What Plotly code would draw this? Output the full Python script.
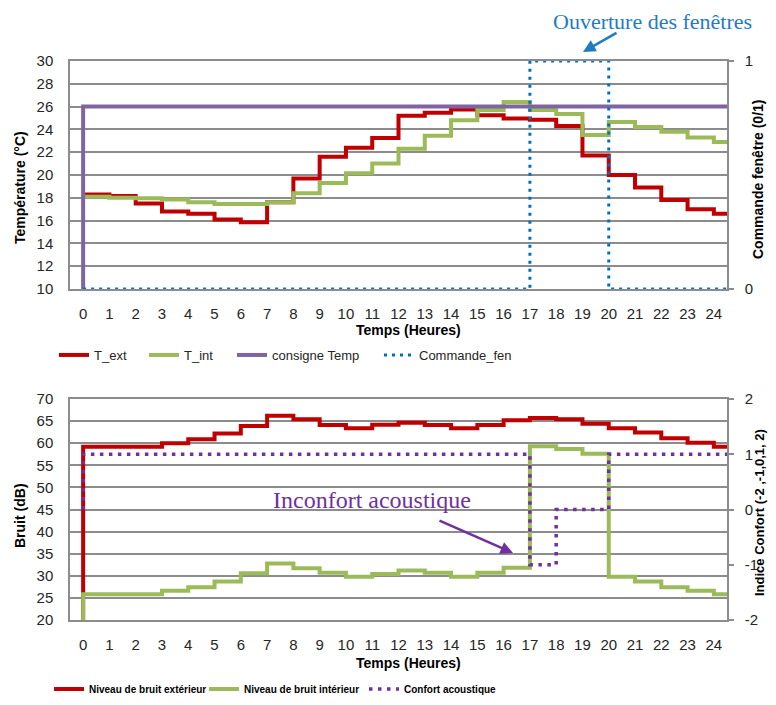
import plotly.graph_objects as go

# ---------------- data ----------------
hours = list(range(25))
hour_end = 24.5  # right end of the time axis (last step runs to it)
hour_ticks = list(range(25))

t_ext = [18.3, 18.15, 17.5, 16.8, 16.6, 16.1, 15.85, 17.6, 19.7, 21.6, 22.4, 23.25,
         25.2, 25.45, 25.75, 25.25, 24.95, 24.85, 24.3, 21.7, 20.0, 18.9, 17.8, 17.0, 16.6]
t_int = [18.1, 18.0, 17.95, 17.85, 17.6, 17.45, 17.45, 17.6, 18.4, 19.3, 20.15, 21.0,
         22.3, 23.45, 24.8, 25.7, 26.4, 25.7, 25.35, 23.5, 24.65, 24.2, 23.8, 23.3, 22.9]
consigne_start = 10
consigne = [26] * 25
commande = [0, 0, 0, 0, 0, 0, 0, 0, 0, 0, 0, 0, 0, 0, 0, 0, 0, 1, 1, 1, 0, 0, 0, 0, 0]

bruit_start = 20
bruit_ext = [59.2, 59.2, 59.2, 60.0, 60.9, 62.2, 63.9, 66.2, 65.4, 64.1, 63.4, 64.2,
             64.6, 64.1, 63.4, 64.1, 65.2, 65.7, 65.4, 64.4, 63.4, 62.4, 61.1, 60.1, 59.2]
bruit_int = [25.8, 25.8, 25.8, 26.6, 27.4, 28.7, 30.6, 32.8, 31.7, 30.7, 29.8, 30.4,
             31.2, 30.7, 29.8, 30.7, 31.8, 59.3, 58.7, 57.6, 29.8, 28.7, 27.4, 26.6, 25.8]
confort_start = 0
confort = [1, 1, 1, 1, 1, 1, 1, 1, 1, 1, 1, 1, 1, 1, 1, 1, 1, -1, 0, 0, 1, 1, 1, 1, 1]

# ---------------- helpers ----------------
OFF = 8  # page body margin
W, H = 776 - 2 * OFF, 705 - 2 * OFF
def px(x):
    return (x - OFF) / W
def py(y):
    return 1 - (y - OFF) / H

def step_xy(vals, start=None):
    xs = list(hours) + [hour_end]
    ys = list(vals) + [vals[-1]]
    if start is not None:
        xs = [hours[0]] + xs
        ys = [start] + ys
    return xs, ys

RED = "#C00000"
GREEN = "#9BBB59"
PURPLE = "#8064A2"
BLUE = "#0070C0"
DPURPLE = "#7030A0"
GRID = "#8C8C8C"
TXT = "#262626"
SANS = "Liberation Sans, Arial, sans-serif"
SERIF = "Liberation Serif, DejaVu Serif, serif"

fig = go.Figure()

x, y = step_xy(t_ext)
fig.add_trace(go.Scatter(x=x, y=y, mode="lines", line=dict(color=RED, width=4, shape="hv"),
                         name="T_ext", xaxis="x", yaxis="y", legend="legend"))
x, y = step_xy(t_int)
fig.add_trace(go.Scatter(x=x, y=y, mode="lines", line=dict(color=GREEN, width=4, shape="hv"),
                         name="T_int", xaxis="x", yaxis="y", legend="legend2"))
x, y = step_xy(consigne, consigne_start)
fig.add_trace(go.Scatter(x=x, y=y, mode="lines", line=dict(color=PURPLE, width=4, shape="hv"),
                         name="consigne Temp", xaxis="x", yaxis="y", legend="legend3"))
x, y = step_xy(commande)
fig.add_trace(go.Scatter(x=x, y=y, mode="lines",
                         line=dict(color=BLUE, width=3, shape="hv", dash="3px,5px"),
                         name="Commande_fen", xaxis="x", yaxis="y2", legend="legend4"))

x, y = step_xy(bruit_ext, bruit_start)
fig.add_trace(go.Scatter(x=x, y=y, mode="lines", line=dict(color=RED, width=4, shape="hv"),
                         name="Niveau de bruit extérieur", xaxis="x2", yaxis="y3", legend="legend5"))
x, y = step_xy(bruit_int, bruit_start)
fig.add_trace(go.Scatter(x=x, y=y, mode="lines", line=dict(color=GREEN, width=4, shape="hv"),
                         name="Niveau de bruit intérieur", xaxis="x2", yaxis="y3", legend="legend6"))
x, y = step_xy(confort, confort_start)
fig.add_trace(go.Scatter(x=x, y=y, mode="lines",
                         line=dict(color=DPURPLE, width=3.5, shape="hv", dash="3.5px,5.5px"),
                         name="Confort acoustique", xaxis="x2", yaxis="y4", legend="legend7"))

xdom = [px(70), px(727)]
top_dom = [py(289), py(61)]
bot_dom = [py(620), py(399)]

tickfont = dict(family=SANS, size=15, color=TXT)
common_x = dict(domain=xdom, range=[-0.5, hour_end], tickmode="array", tickvals=hour_ticks,
                showgrid=False, showline=True, linecolor=GRID, linewidth=1.5, mirror=True,
                ticks="", tickfont=tickfont, ticklabelstandoff=10, zeroline=False,
                fixedrange=True, automargin=False)
common_yl = dict(showgrid=True, gridcolor=GRID, gridwidth=1.5, showline=True, linecolor=GRID,
                 linewidth=1.5, ticks="", tickfont=tickfont, ticklabelstandoff=12,
                 zeroline=False, fixedrange=True, automargin=False)
common_yr = dict(side="right", showgrid=False, showline=True, linecolor=GRID, linewidth=1.5,
                 ticks="outside", ticklen=5, tickcolor=GRID, tickwidth=1.5, tickfont=tickfont,
                 ticklabelstandoff=8, zeroline=False, fixedrange=True, automargin=False)

fig.update_layout(
    width=W, height=H, margin=dict(l=0, r=0, t=0, b=0, autoexpand=False),
    paper_bgcolor="white", plot_bgcolor="white",
    xaxis=dict(anchor="y", **common_x),
    yaxis=dict(domain=top_dom, range=[10, 30], dtick=2, anchor="x", **common_yl),
    yaxis2=dict(overlaying="y", anchor="x", range=[0, 1], tickvals=[0, 1], ticktext=["0", "1"],
                **common_yr),
    xaxis2=dict(anchor="y3", **common_x),
    yaxis3=dict(domain=bot_dom, range=[20, 70], dtick=5, anchor="x2", **common_yl),
    yaxis4=dict(overlaying="y3", anchor="x2", range=[-2, 2], tickvals=[-2, -1, 0, 1, 2],
                ticktext=["-2", "-1", "0", "1", "2"], **common_yr),
    showlegend=True,
)

top_leg_font = dict(family=SANS, size=13, color=TXT)
bot_leg_font = dict(family=SANS, size=10, color="black", weight="bold")
leg_common = dict(orientation="h", xanchor="left", yanchor="middle", bgcolor="rgba(0,0,0,0)",
                  borderwidth=0, itemwidth=30)
legs = [("legend", 60, 355, top_leg_font), ("legend2", 150, 355, top_leg_font),
        ("legend3", 238, 355, top_leg_font), ("legend4", 385, 355, top_leg_font),
        ("legend5", 55, 689, bot_leg_font), ("legend6", 210, 689, bot_leg_font),
        ("legend7", 370, 689, bot_leg_font)]
for name, lx, ly, f in legs:
    fig.update_layout({name: dict(x=px(lx - 6), y=py(ly), font=f, **leg_common)})

ann = []
bold_t = dict(family=SANS, size=14, color="black", weight="bold")
ann.append(dict(x=px(20), y=py(188), text="Température (°C)", textangle=-90, font=bold_t))
ann.append(dict(x=px(758), y=py(180), text="Commande fenêtre (0/1)", textangle=-90, font=bold_t))
ann.append(dict(x=px(408), y=py(330), text="Temps (Heures)", font=bold_t))
ann.append(dict(x=px(20), y=py(516), text="Bruit (dB)", textangle=-90, font=bold_t))
ann.append(dict(x=px(759), y=py(513), text="Indice Confort (-2 ,-1,0,1, 2)", textangle=-90,
                font=dict(family=SANS, size=13, color="black", weight="bold")))
ann.append(dict(x=px(408), y=py(663), text="Temps (Heures)", font=bold_t))
ann.append(dict(x=px(652), y=py(22), text="Ouverture des fenêtres",
                font=dict(family=SERIF, size=22, color="#1F7BC4")))
ann.append(dict(x=px(372), y=py(500), text="Inconfort acoustique",
                font=dict(family=SERIF, size=24, color=DPURPLE)))
for a in ann:
    a.update(xref="paper", yref="paper", showarrow=False, xanchor="center", yanchor="middle")

arrows = [
    dict(x=px(583), y=py(52), ax=35, ay=-20, arrowcolor="#1F7BC4"),
    dict(x=px(513), y=py(553), ax=-75, ay=-33, arrowcolor=DPURPLE),
]
for a in arrows:
    a.update(xref="paper", yref="paper", axref="pixel", ayref="pixel", showarrow=True,
             arrowhead=2, arrowsize=1, arrowwidth=2.5, text="")
    ann.append(a)

fig.update_layout(annotations=ann)
fig.write_html("out.html")
